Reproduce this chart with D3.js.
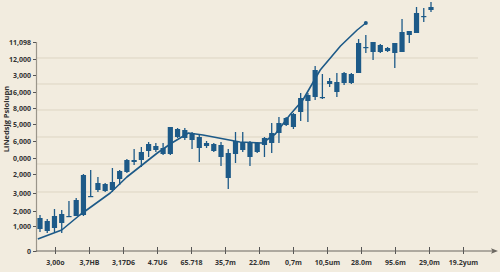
<!DOCTYPE html>
<html>
<head>
<meta charset="utf-8">
<script src="https://cdn.jsdelivr.net/npm/d3@7"></script>
<style>
  html, body { margin: 0; padding: 0; background: #f2ecdf; }
  svg { display: block; }
  text { font-family: "Open Sans", "DejaVu Sans", sans-serif; }
</style>
</head>
<body>
<svg id="chart" width="500" height="272"></svg>
<script>
// ---------- data ----------
const yTickValues = [20900, 19200, 17600, 15900, 14300, 12700, 11000, 9300, 7700, 5800, 4000, 2500, 0];
const yTickLabels = ["11,098", "12,000", "3,000", "16,000", "8,000", "5,000", "6,000", "0,000", "2,000", "3,000", "2,000", "1,000", "0"];
const gridValues = [19300, 16700, 14100, 11400, 8700, 5900];
const xTickLabels = ["3,00o", "3,7HB", "3,17D6", "4.7U6", "65.718", "35,7m", "22.0m", "0,7m", "10,5um", "28.0m", "95.6m", "29,0m", "19.2yum"];
const yTitle = "LiNedsjg  Psiolupn";

// candles: open, high, low, close
const opens  = [2200,2000,2300,2800,3400,3500,3600,5400,6100,6000,6100,7200,7900,8900,9100,10000,10100,9700,9700,11400,11300,11100,11400,10500,10000,9400,9800,9700,10100,9400,9900,10600,10800,11800,12600,12400,13900,15000,15400,15300,16700,15900,16800,16800,17800,20300,19900,19900,20000,19800,19900,21600,21800,23400,24100];
const closes = [3300,3000,3500,3700,3500,5100,7600,5500,6800,6700,6900,8000,9100,9100,9900,10700,10500,10300,12400,12200,12100,11800,10300,10800,10700,10600,7300,11000,10900,10900,10800,11300,11800,12800,13300,13700,15300,15600,18100,15400,17000,16900,17800,17700,20800,20400,20900,20600,20300,20800,21900,22000,23800,23500,24400];
const highs  = [3600,3200,4200,4100,5000,5300,7700,8100,7400,6800,8300,8100,9200,10200,10400,10900,10800,10800,12400,12300,12300,11900,11600,11000,10800,10900,10200,11900,11900,11000,10900,11400,12800,13400,13400,13800,15800,15800,18500,17700,17300,17800,17900,17800,21200,21600,20900,20700,20400,20800,23200,22000,24400,24300,24900];
const lows   = [1900,1800,1900,1800,3400,3500,3500,5400,5900,5900,5900,6600,7800,8600,8400,9400,9900,9600,9600,11300,11100,10200,8900,10300,9900,8500,6200,8800,9900,8500,9800,9400,9800,10800,12500,12200,13000,12900,15100,15200,16400,15400,16600,16700,17800,19800,19100,19800,19900,18300,19900,20800,21800,22900,23900];

// trend line (candle index position, value)
const linePos = [-0.3, 3, 5.5, 9.7, 12, 16.2, 18.2, 20.5, 22.5, 27.6, 30.7, 32.5, 34.5, 36.3, 38.7, 41.5, 43.8, 45];
const lineVal = [1200, 2100, 3600, 5800, 7400, 9800, 10800, 11800, 11600, 10900, 10800, 11700, 13600, 15100, 18100, 20500, 22100, 22800];

// ---------- drawing ----------
const svg = d3.select("#chart");
const blue = "#1d5a88";

const y = d3.scaleLinear().domain([0, 20900]).range([251, 42]);
const xc = d3.scaleLinear().domain([0, 54]).range([40, 431]);
const xl = d3.scalePoint().domain(xTickLabels).range([55, 463]);

// grid
svg.append("g").selectAll("line").data(gridValues).join("line")
  .attr("x1", 37).attr("x2", 478)
  .attr("y1", d => y(d)).attr("y2", d => y(d))
  .attr("stroke", "#ddd5c3").attr("stroke-width", 1);

// y axis
const yAxis = d3.axisLeft(y).tickValues(yTickValues)
  .tickFormat((d, i) => yTickLabels[i]).tickSize(3).tickPadding(2);
const gy = svg.append("g").attr("transform", "translate(36,0)").call(yAxis);
gy.select(".domain").attr("stroke", "#9a958a").attr("stroke-width", 1.2);
gy.selectAll(".tick line").attr("stroke", "#555");
gy.selectAll("text").attr("font-size", 7).attr("font-weight", 700).attr("fill", "#333");

// x axis
const xAxis = d3.axisBottom(xl).tickSize(0).tickPadding(9);
const gx = svg.append("g").attr("transform", "translate(0,251)").call(xAxis);
gx.select(".domain").remove();
gx.append("line").attr("x1", 36).attr("x2", 494).attr("y1", 0).attr("y2", 0)
  .attr("stroke", "#6b6760").attr("stroke-width", 1);
gx.append("path").attr("d", "M498,0 L491,-2.8 L492.5,0 L491,2.8 Z").attr("fill", "#6b6760");
gx.selectAll(".tick").append("line").attr("y1", -4).attr("y2", 3)
  .attr("stroke", "#555").attr("stroke-width", 1);
gx.selectAll("text").attr("font-size", 7).attr("font-weight", 700).attr("fill", "#333");

// y title
svg.append("text")
  .attr("transform", "translate(9,119) rotate(-90)")
  .attr("text-anchor", "middle")
  .attr("font-size", 7.5).attr("font-weight", 700).attr("fill", "#333")
  .text(yTitle);

// candles
const idx = d3.range(opens.length);
const cg = svg.append("g");
cg.selectAll("line.wick").data(idx).join("line")
  .attr("class", "wick")
  .attr("x1", i => xc(i)).attr("x2", i => xc(i))
  .attr("y1", i => y(highs[i])).attr("y2", i => y(lows[i]))
  .attr("stroke", blue).attr("stroke-width", 1.3);
cg.selectAll("rect.body").data(idx).join("rect")
  .attr("class", "body")
  .attr("x", i => xc(i) - 2.6)
  .attr("width", 5.2)
  .attr("y", i => y(Math.max(opens[i], closes[i])))
  .attr("height", i => Math.max(1.2, Math.abs(y(opens[i]) - y(closes[i]))))
  .attr("fill", blue);

// trend line
const line = d3.line().x((d, i) => xc(linePos[i])).y((d, i) => y(lineVal[i]));
svg.append("path").datum(lineVal).attr("d", line)
  .attr("fill", "none").attr("stroke", blue).attr("stroke-width", 1.6)
  .attr("stroke-linejoin", "round");
svg.append("circle")
  .attr("cx", xc(linePos[linePos.length - 1])).attr("cy", y(lineVal[lineVal.length - 1]))
  .attr("r", 2).attr("fill", blue);
</script>
</body>
</html>
